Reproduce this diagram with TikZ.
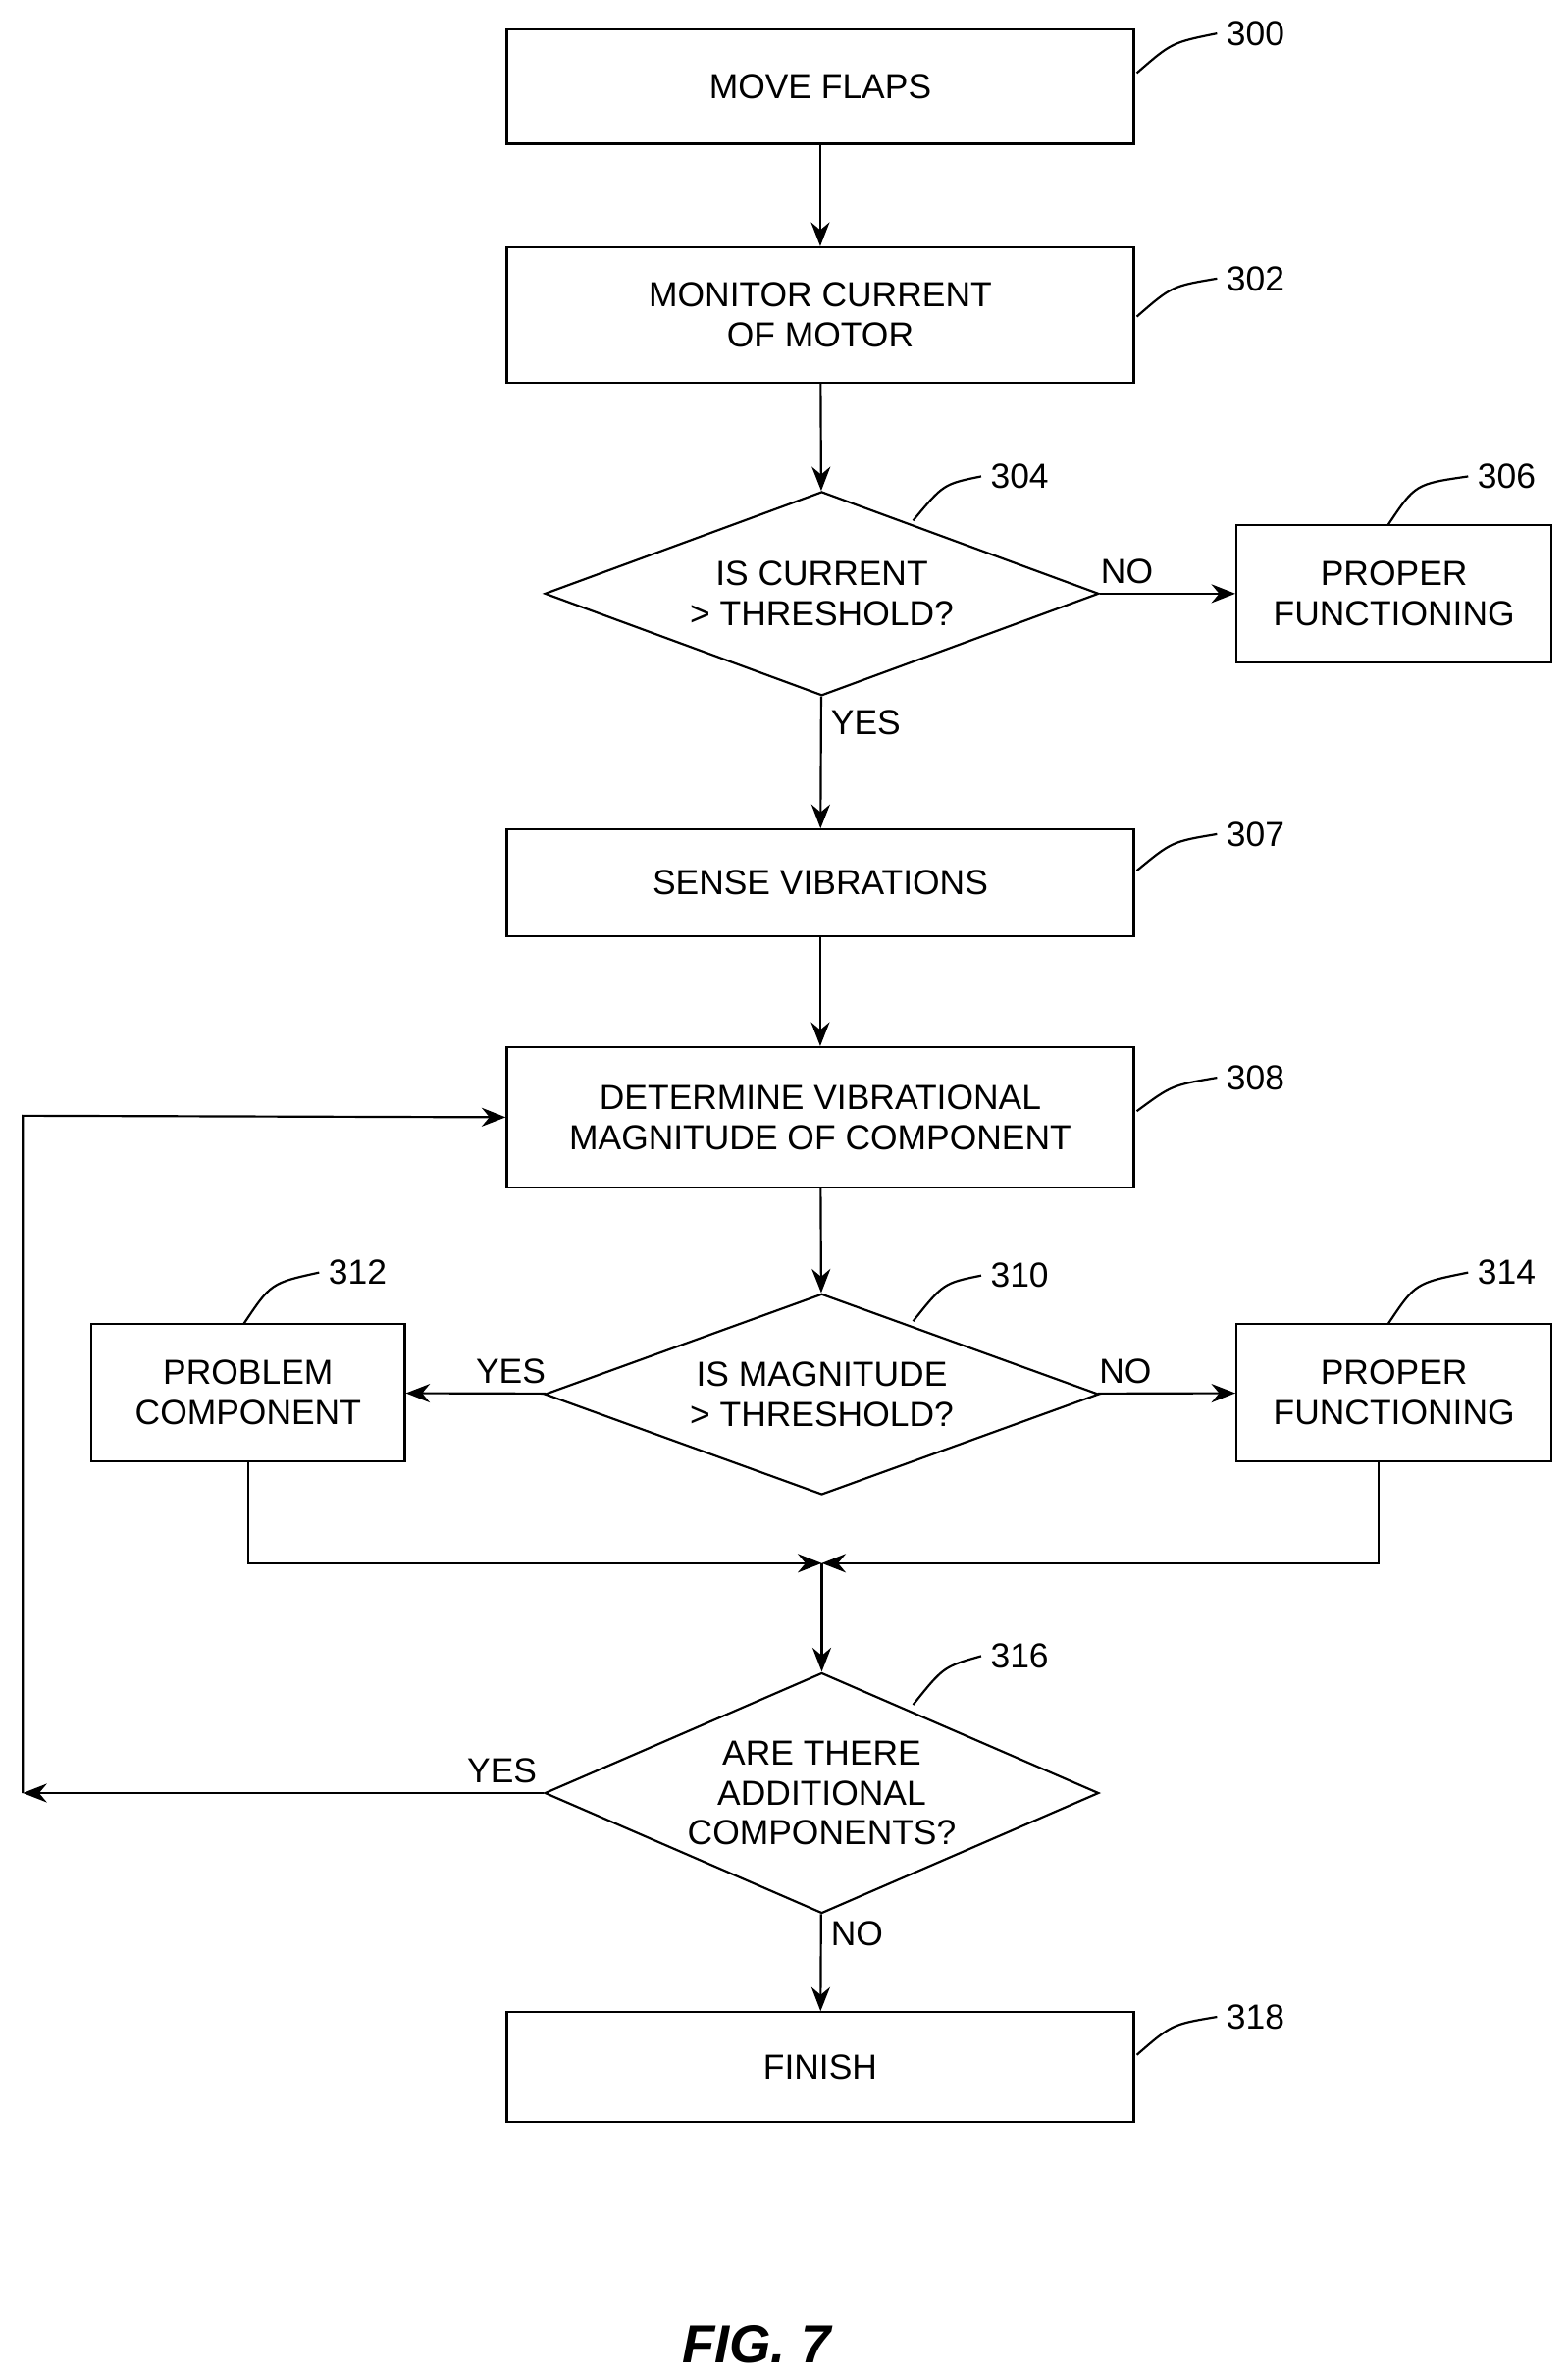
\documentclass[tikz,border=0pt]{standalone}
\usepackage{fontspec}
\setmainfont{Liberation Sans}
\usetikzlibrary{shapes.geometric,arrows.meta}
\begin{document}
\begin{tikzpicture}[x=0.02cm,y=-0.02cm,
  box/.style={draw, thick, align=center, inner sep=0pt, font=\fontsize{13}{15}\selectfont},
  dec/.style={draw, thick, diamond, aspect=2.72, inner sep=0pt, align=center, font=\fontsize{13}{15}\selectfont},
  lbl/.style={font=\fontsize{13}{15}\selectfont},
  arr/.style={thick, -{Stealth[length=9pt,width=7pt]}},
  lead/.style={thick}]
  \useasboundingbox (0,0) rectangle (1030,1561);
  \node[box, minimum width=412*0.02cm, minimum height=75*0.02cm] (b300) at (539,57) {MOVE FLAPS};
  \node[box, minimum width=412*0.02cm, minimum height=89*0.02cm] (b302) at (539,207) {MONITOR CURRENT\\OF MOTOR};
  \node[dec, minimum width=364*0.02cm, minimum height=134*0.02cm] (d304) at (540,390) {IS CURRENT\\> THRESHOLD?};
  \node[box, minimum width=207*0.02cm, minimum height=90*0.02cm] (b306) at (916,390) {PROPER\\FUNCTIONING};
  \node[box, minimum width=412*0.02cm, minimum height=70*0.02cm] (b307) at (539,580) {SENSE VIBRATIONS};
  \node[box, minimum width=412*0.02cm, minimum height=92*0.02cm] (b308) at (539,734) {DETERMINE VIBRATIONAL\\MAGNITUDE OF COMPONENT};
  \node[dec, minimum width=364*0.02cm, minimum height=132*0.02cm] (d310) at (540,916) {IS MAGNITUDE\\> THRESHOLD?};
  \node[box, minimum width=206*0.02cm, minimum height=90*0.02cm] (b312) at (163,915) {PROBLEM\\COMPONENT};
  \node[box, minimum width=207*0.02cm, minimum height=90*0.02cm] (b314) at (916,915) {PROPER\\FUNCTIONING};
  \node[dec, minimum width=364*0.02cm, minimum height=158*0.02cm] (d316) at (540,1178) {ARE THERE\\ADDITIONAL\\COMPONENTS?};
  \node[box, minimum width=412*0.02cm, minimum height=72*0.02cm] (b318) at (539,1358) {FINISH};
  \coordinate (mrg) at (540,1027);
  \coordinate (ret1) at (15,1178);
  \coordinate (ret2) at (15,733);

  % flow
  \draw[arr] (b300) -- (b302);
  \draw[arr] (b302) -- (d304);
  \draw[arr] (d304) -- node[lbl, above, pos=0.2] {NO} (b306);
  \draw[arr] (d304) -- node[lbl, right, pos=0.2] {YES} (b307);
  \draw[arr] (b307) -- (b308);
  \draw[arr] (b308) -- (d310);
  \draw[arr] (d310) -- node[lbl, above, pos=0.25] {YES} (b312);
  \draw[arr] (d310) -- node[lbl, above, pos=0.2] {NO} (b314);
  \draw[arr] (b312.south) |- (mrg);
  \draw[arr] (b314.south -| 906,0) |- (mrg);
  \draw[arr] (mrg) -- (d316);
  \draw[arr] (d316.west) -- node[lbl, above, pos=0.08] {YES} (ret1);
  \draw[arr] (ret1) -- (ret2) -- (b308.west);
  \draw[arr] (d316) -- node[lbl, right, pos=0.2] {NO} (b318);

  % reference numerals
  \node[lbl] (n300) at (825,22) {300};
  \node[lbl] (n302) at (825,183) {302};
  \node[lbl] (n304) at (670,313) {304};
  \node[lbl] (n306) at (990,313) {306};
  \node[lbl] (n307) at (825,548) {307};
  \node[lbl] (n308) at (825,708) {308};
  \node[lbl] (n310) at (670,838) {310};
  \node[lbl] (n312) at (235,836) {312};
  \node[lbl] (n314) at (990,836) {314};
  \node[lbl] (n316) at (670,1088) {316};
  \node[lbl] (n318) at (825,1325) {318};
  \draw[lead] (747,48) .. controls (770,28) .. (n300.west);
  \draw[lead] (747,208) .. controls (770,188) .. (n302.west);
  \draw[lead] (600,342) .. controls (620,318) .. (n304.west);
  \draw[lead] (912,345) .. controls (930,318) .. (n306.west);
  \draw[lead] (747,572) .. controls (770,553) .. (n307.west);
  \draw[lead] (747,730) .. controls (770,713) .. (n308.west);
  \draw[lead] (600,868) .. controls (620,843) .. (n310.west);
  \draw[lead] (160,870) .. controls (178,843) .. (n312.west);
  \draw[lead] (912,870) .. controls (930,843) .. (n314.west);
  \draw[lead] (600,1120) .. controls (620,1095) .. (n316.west);
  \draw[lead] (747,1350) .. controls (770,1330) .. (n318.west);

  \node[font=\fontsize{20}{24}\selectfont\bfseries\itshape] (fig) at (497,1540) {FIG. 7};
\end{tikzpicture}
\end{document}
